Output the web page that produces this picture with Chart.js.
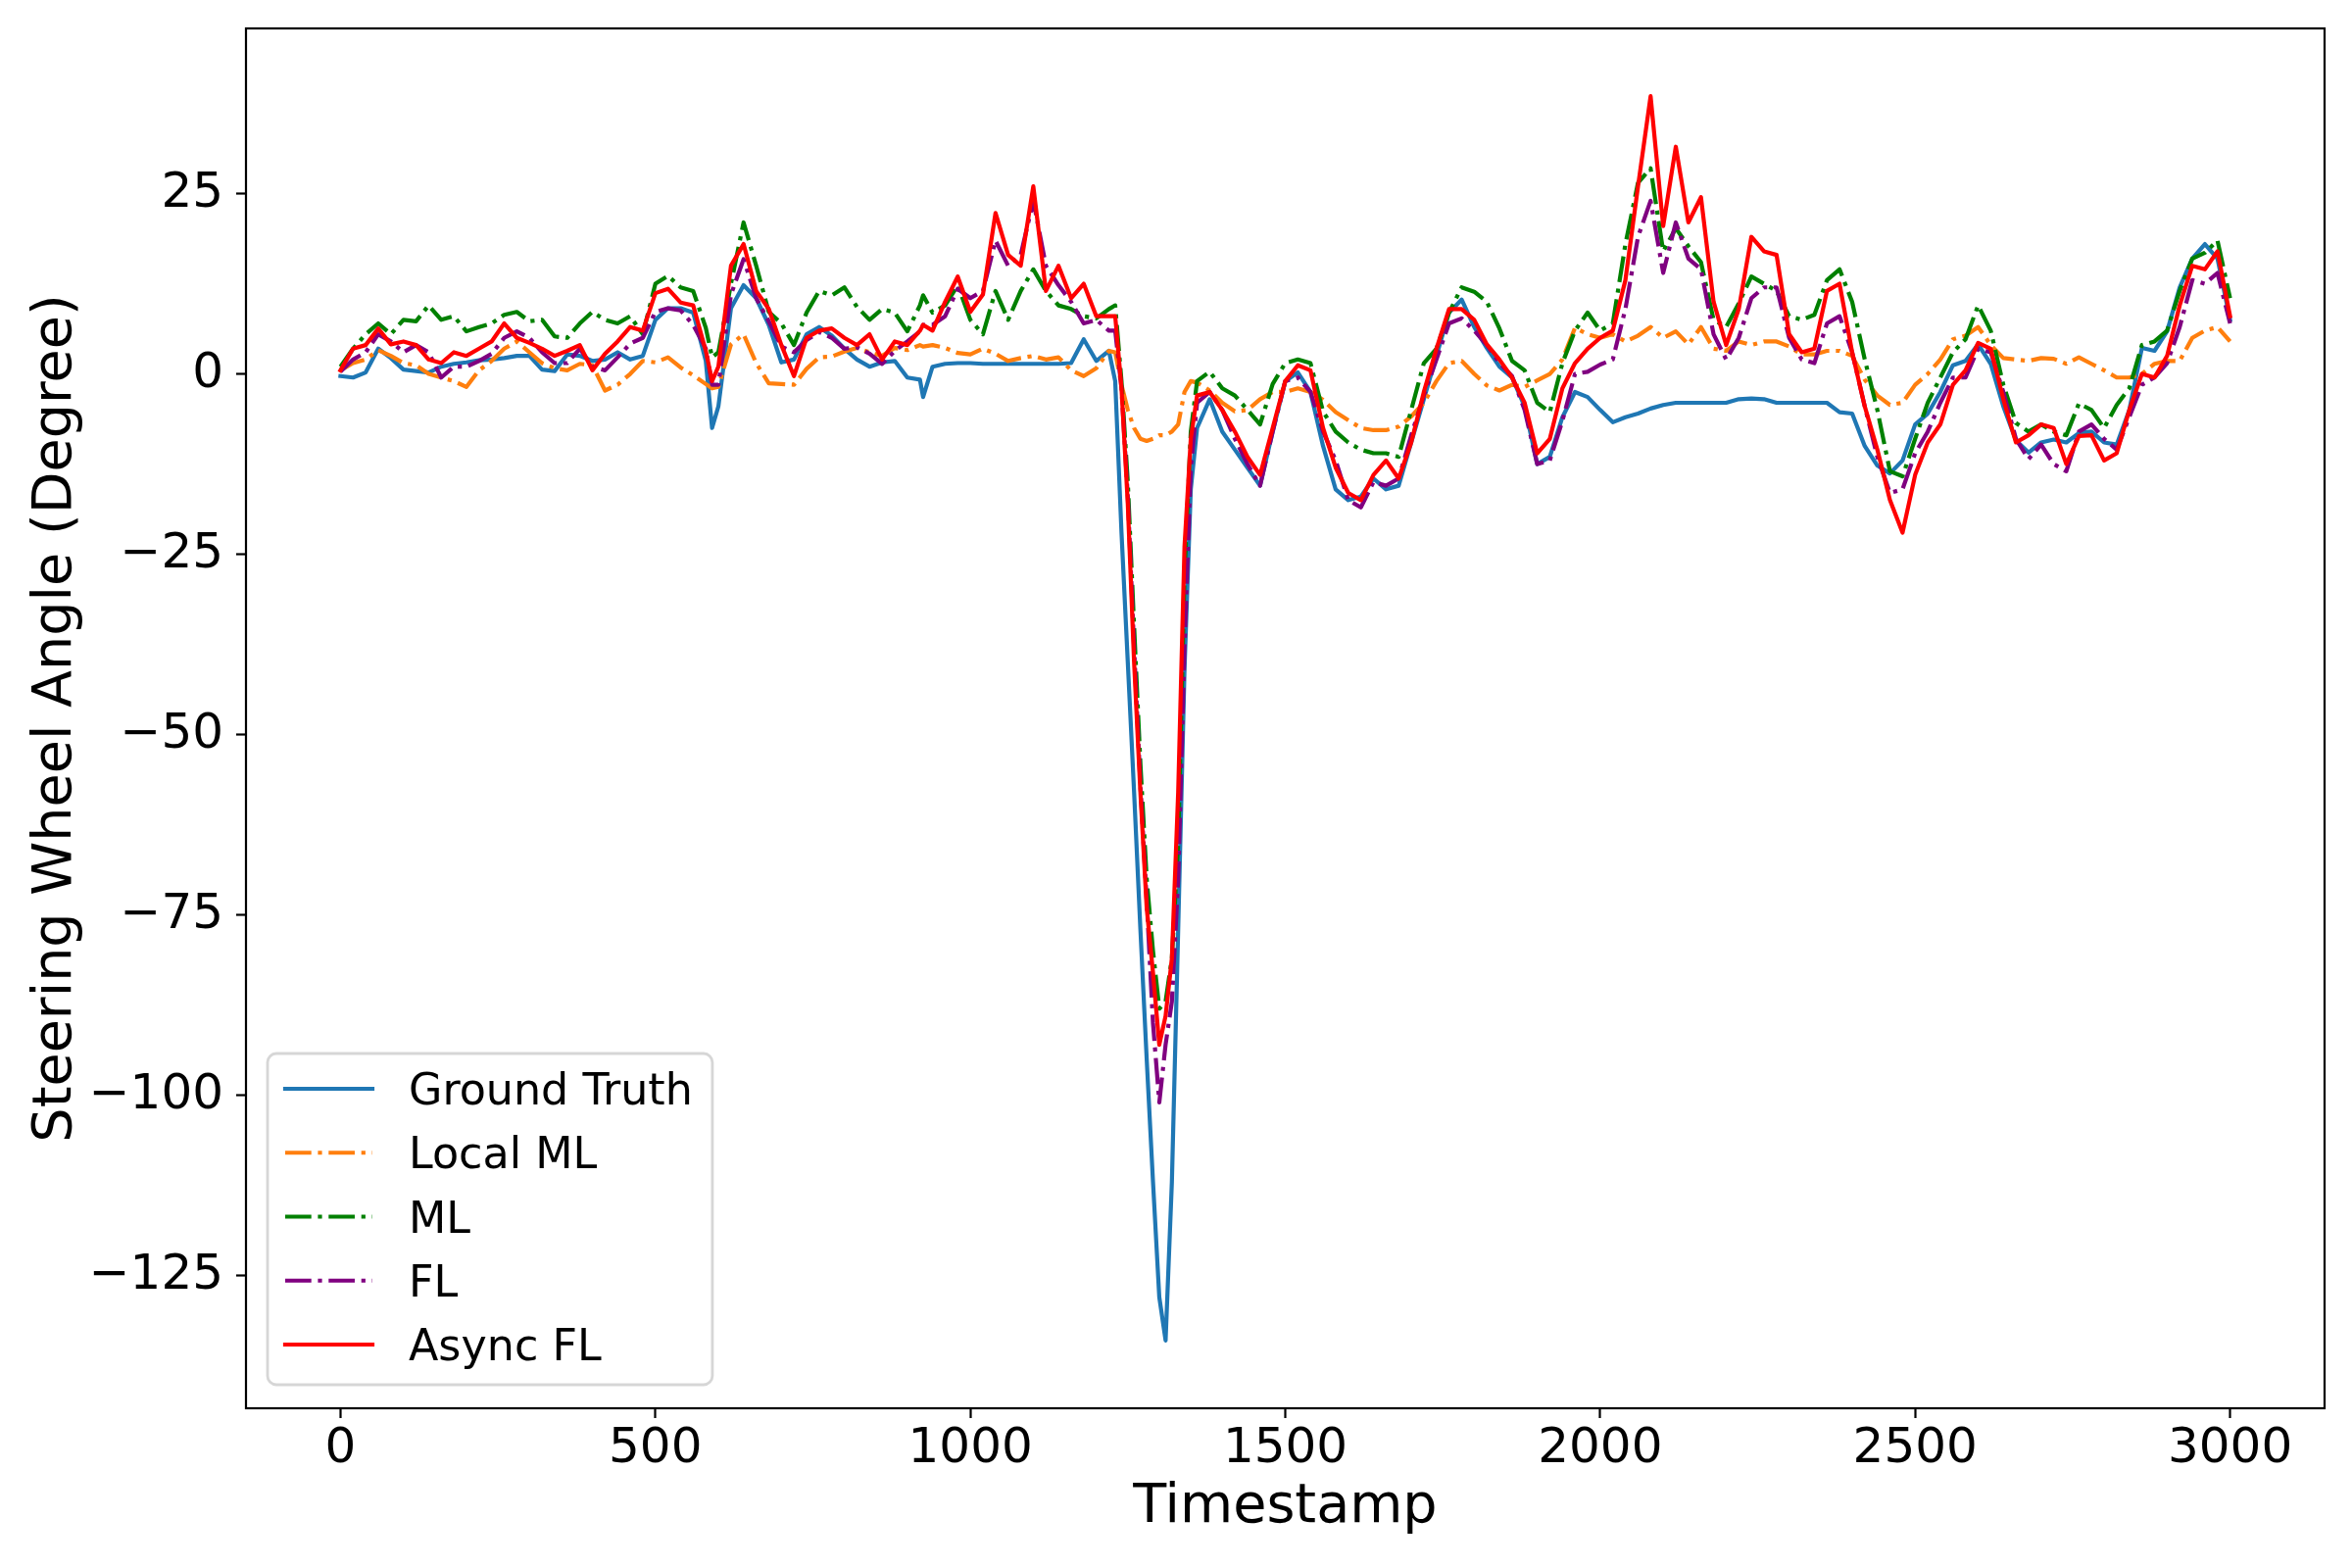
<!DOCTYPE html>
<html>
<head>
<meta charset="utf-8">
<title>Steering Wheel Angle</title>
<script src="https://cdn.jsdelivr.net/npm/chart.js@4.4.1/dist/chart.umd.min.js"></script>
<style>
  html, body { margin: 0; padding: 0; background: #fff; }
  canvas { display: block; }
</style>
</head>
<body>
<canvas id="steeringChart" width="2400" height="1600"></canvas>
<script>
const timestamps = [
  0, 20, 40, 60, 80, 100, 120, 140, 160, 180, 200, 220, 240, 260, 280, 300, 320, 340, 360, 380, 400, 420, 440, 460, 480,
  500, 520, 540, 560, 580, 590, 600, 620, 640, 660, 680, 700, 720, 740, 760, 780, 800, 820, 840, 860, 880, 900, 920, 925, 940, 960, 980,
  1000, 1020, 1040, 1060, 1080, 1100, 1120, 1140, 1160, 1180, 1200, 1220, 1230, 1240, 1250, 1260, 1270, 1280, 1290, 1300, 1310, 1320, 1330, 1340, 1350, 1360, 1380, 1400, 1420, 1440, 1460, 1480,
  1500, 1520, 1540, 1560, 1580, 1600, 1620, 1640, 1660, 1680, 1700, 1720, 1740, 1760, 1780, 1800, 1820, 1840, 1860, 1880, 1900, 1920, 1940, 1960, 1980,
  2000, 2020, 2040, 2060, 2080, 2100, 2120, 2140, 2160, 2180, 2200, 2220, 2240, 2260, 2280, 2300, 2320, 2340, 2360, 2380, 2400, 2420, 2440, 2460, 2480,
  2500, 2520, 2540, 2560, 2580, 2600, 2620, 2640, 2660, 2680, 2700, 2720, 2740, 2760, 2780, 2800, 2820, 2840, 2860, 2880, 2900, 2920, 2940, 2960, 2980, 3000
];

const groundTruth = [
  -0.3, -0.5, 0.2, 3.5, 2.2, 0.6, 0.4, 0.2, 1.0, 1.4, 1.6, 1.9, 2.0, 2.2, 2.5, 2.5, 0.6, 0.4, 2.7, 2.5, 1.8, 2.0, 3.0, 2.0, 2.5,
  7.5, 9.1, 9.1, 8.5, 1.8, -7.5, -4.5, 9.1, 12.3, 10.5, 6.8, 1.6, 2.0, 5.5, 6.5, 5.3, 3.5, 2.0, 1.0, 1.6, 1.8, -0.5, -0.8, -3.2, 1.0, 1.4, 1.5,
  1.5, 1.4, 1.4, 1.4, 1.4, 1.4, 1.4, 1.4, 1.5, 4.8, 1.8, 3.2, -1.0, -22, -40, -58, -77, -95, -112, -128, -134, -112, -77, -41, -16, -7.5, -3.5, -8, -10.5, -13, -15.5, -8,
  -1.0, 0.2, -2.5, -10, -16, -17.5, -17, -14.5, -16, -15.5, -9.5, -3.5, 2.5, 8.5, 10.3, 6.5, 3.6, 1.0, -0.5, -4.5, -12.5, -11.5, -6.0, -2.5, -3.2,
  -5.0, -6.7, -6.0, -5.5, -4.8, -4.3, -4.0, -4.0, -4.0, -4.0, -4.0, -3.5, -3.4, -3.5, -4.0, -4.0, -4.0, -4.0, -4.0, -5.3, -5.5, -10.0, -12.7, -13.8, -12.0,
  -7.0, -5.5, -2.5, 1.2, 1.8, 4.1, 1.4, -4.5, -9.2, -10.9, -9.5, -9.1, -9.5, -8.2, -8.0, -9.5, -9.8, -5.0, 3.6, 3.2, 5.9, 12.0, 16.0, 18.0, 16.0, 7.5
];

const localML = [
  0.5, 1.5, 2.0, 3.3, 2.5, 1.5, 1.2, 0, -0.5, -1.0, -1.8, 0.5, 1.8, 3.5, 4.5, 3.0, 1.5, 0.8, 0.5, 1.4, 1.2, -2.3, -1.5, 0, 1.8,
  1.6, 2.3, 0.9, -0.2, -1.4, -2.0, -1.8, 4.1, 5.5, 1.5, -1.3, -1.4, -1.5, 0.7, 2.3, 2.4, 3.1, 3.6, 3.0, 2.5, 3.6, 3.3, 4.0, 3.8, 4.0, 3.6, 2.9,
  2.7, 3.5, 2.8, 1.8, 2.2, 2.5, 2.0, 2.3, 0.5, -0.3, 0.8, 3.2, 3.0, -1.5, -5, -7.5, -9, -9.3, -9, -8.5, -8.5, -8, -7, -2.5, -1, -1.2, -2.3, -4.0, -5.2, -5, -3.5, -2.5,
  -2.5, -2, -2.5, -3.6, -5.3, -6.4, -7.5, -7.8, -7.8, -7.3, -5.9, -4.0, -1.0, 1.5, 1.8, 0, -1.6, -2.3, -1.5, -1.8, -0.9, 0, 2.0, 6.4, 5.5,
  5.0, 5.5, 4.5, 5.3, 6.5, 5.0, 5.9, 4.1, 6.5, 3.5, 3.2, 4.5, 4.0, 4.5, 4.5, 3.8, 2.7, 2.7, 3.2, 3.2, 2.5, -0.8, -3.0, -4.3, -4.0,
  -1.5, 0, 2.0, 4.8, 5.3, 6.5, 4.0, 2.2, 2.0, 1.8, 2.2, 2.1, 1.4, 2.3, 1.4, 0.5, -0.5, -0.5, 0, 1.4, 1.8, 1.8, 5.0, 6.0, 6.5, 4.5
];

const mlPred = [
  1, 3.5, 5.5, 7.0, 5.5, 7.5, 7.3, 9.5, 7.5, 8.0, 5.9, 6.5, 7.0, 8.2, 8.6, 7.3, 7.5, 5.2, 5.0, 7.0, 8.6, 7.5, 7.0, 8.0, 5.5,
  12.5, 13.6, 12.0, 11.5, 6.4, 2.3, 3.0, 12.5, 21.0, 15.0, 8.6, 7.0, 4.0, 8.5, 11.5, 10.9, 12.0, 9.3, 7.5, 9.0, 8.5, 5.9, 9.5, 10.9, 8.5, 9.5, 12.3,
  7.5, 5.5, 11.5, 7.5, 11.5, 14.5, 11.5, 9.5, 9.0, 8.0, 7.7, 9.0, 9.5, -1, -15, -35, -54, -70, -80, -88, -87, -81, -65, -28, -8, -1, 0.3, -2.0, -3.0, -5.0, -7.0, -1.4,
  1.5, 2.0, 1.5, -5.2, -8.0, -9.5, -10.5, -11.0, -11.0, -11.5, -5.0, 1.5, 3.5, 8.5, 12.0, 11.4, 10.0, 6.3, 1.8, 0.5, -4.0, -5.3, 1.5, 6.0, 8.5,
  6.0, 7.0, 18.0, 26.5, 28.5, 17.0, 20.2, 17.7, 15.5, 7.5, 6.5, 9.8, 13.5, 12.5, 11.5, 8.0, 7.5, 8.2, 13.0, 14.5, 10.0, 2.0, -5.0, -13.5, -14.2,
  -9, -4, -0.5, 3.0, 4.8, 9.5, 6.0, -1.5, -6.8, -8.0, -7.0, -8.0, -8.5, -4.1, -5.0, -7.5, -4.3, -2.0, 4.0, 4.5, 6.0, 11.5, 16.0, 16.8, 18.5, 10.5
];

const flPred = [
  0.3, 2.0, 3.0, 5.5, 4.5, 3.0, 4.0, 3.0, -0.5, 1.0, 1.0, 1.8, 2.8, 5.0, 5.9, 5.0, 3.0, 1.5, 1.5, 3.5, 1.0, 0.5, 2.3, 4.2, 5.0,
  8.6, 9.1, 8.8, 6.8, 3.5, -1.5, -1.5, 11.0, 15.9, 10.5, 7.3, 3.8, 3.0, 4.7, 5.8, 5.0, 3.5, 3.7, 2.8, 1.4, 3.2, 4.5, 5.9, 6.8, 6.8, 8.0, 11.8,
  10.5, 11.5, 18.5, 15.0, 16.5, 24.0, 15.0, 12.3, 10.0, 7.0, 7.5, 6.0, 6.0, -2, -17, -38, -57, -73, -90, -101, -93, -87, -70, -38, -13, -4, -2.5, -5, -9, -12.5, -15.5, -8,
  -1.0, -0.5, -2.5, -8.0, -12.0, -17.5, -18.5, -15, -15.5, -14.5, -8.5, -3.0, 2.0, 7.0, 7.7, 6.0, 4.0, 1.5, -0.3, -5.0, -12.5, -12.0, -6.5, 0, 0.3,
  1.3, 2.0, 9.0, 19.0, 24.0, 14.0, 21.0, 16.0, 14.5, 5.5, 2.0, 5.0, 10.5, 12.0, 12.0, 5.0, 2.0, 1.5, 7.0, 8.0, 3.0, -4.5, -11.5, -16.5, -16.0,
  -11.0, -8.0, -4.0, -0.5, -0.5, 3.5, 3.0, -2.5, -9.0, -11.8, -9.8, -12.5, -13.5, -8.0, -7.0, -9.0, -10.5, -6.0, -1.5, -0.5, 1.5, 6.5, 13.0, 12.5, 14.0, 7.0
];

const asyncFL = [
  0.5, 3.5, 4.0, 6.3, 4.1, 4.5, 4.0, 2.0, 1.5, 3.0, 2.5, 3.5, 4.5, 7.0, 5.0, 4.3, 3.5, 2.5, 3.2, 4.0, 0.5, 2.8, 4.5, 6.5, 6.0,
  11.2, 11.8, 9.9, 9.5, 3.2, -1.0, 1.0, 15.0, 18.0, 11.5, 9.0, 4.0, -0.3, 5.0, 6.0, 6.3, 5.0, 4.0, 5.5, 2.0, 4.5, 4.0, 6.0, 6.8, 6.0, 10.0, 13.5,
  8.6, 11.0, 22.3, 16.5, 15.0, 26.0, 11.5, 15.0, 10.5, 12.5, 8.0, 8.0, 8.0, -2, -18, -40, -58, -74, -83, -93, -89, -81, -58, -24, -9, -3, -2.5, -5, -8, -11.5, -14, -7.5,
  -1.0, 1.2, 0.5, -7.5, -13, -16.5, -17.5, -14, -12, -14.5, -9.5, -2.5, 3.5, 9.0, 9.0, 7.5, 4.1, 2.0, -0.5, -4.0, -11.0, -9.0, -2.0, 1.5, 3.5,
  5.0, 6.0, 13.0, 26.0, 38.5, 20.5, 31.5, 21.0, 24.5, 10.0, 4.0, 9.0, 19.0, 17.0, 16.5, 5.5, 3.0, 3.5, 11.5, 12.5, 3.0, -4.5, -10.5, -17.5, -22.0,
  -14.0, -9.5, -7.0, -1.5, 0.5, 4.3, 3.5, -3.5, -9.5, -8.5, -7.0, -7.5, -12.5, -8.6, -8.5, -12.0, -11.0, -5.0, 0, -0.5, 2.5, 9.5, 15.0, 14.5, 17.0, 8.0
];

const xTickValues = [0, 500, 1000, 1500, 2000, 2500, 3000];
const yTickValues = [-125, -100, -75, -50, -25, 0, 25];

const FONT = "'DejaVu Sans', sans-serif";
const DASH_DOT = [26.7, 6.7, 4.2, 6.7];

function toPoints(ys) {
    return timestamps.map((t, i) => ({ x: t, y: ys[i] }));
}

// box around the axes + legend in the lower left, matplotlib style
const frameAndLegend = {
    id: 'frameAndLegend',
    afterDatasetsDraw(chart) {
        const { ctx, chartArea: a } = chart;
        ctx.save();

        // legend
        const fontSize = 44.4;
        ctx.font = fontSize + 'px ' + FONT;
        const sets = chart.data.datasets;
        let maxW = 0;
        sets.forEach(ds => { maxW = Math.max(maxW, ctx.measureText(ds.label).width); });
        const boxL = a.left + 22;
        const boxB = a.bottom - 24;
        const boxH = 338;
        const boxT = boxB - boxH;
        const handleL = boxL + 18, handleR = handleL + 89;
        const textX = handleR + 37;
        const boxR = textX + maxW + 20;
        const r = 9;

        ctx.beginPath();
        ctx.moveTo(boxL + r, boxT);
        ctx.arcTo(boxR, boxT, boxR, boxB, r);
        ctx.arcTo(boxR, boxB, boxL, boxB, r);
        ctx.arcTo(boxL, boxB, boxL, boxT, r);
        ctx.arcTo(boxL, boxT, boxR, boxT, r);
        ctx.closePath();
        ctx.fillStyle = 'rgba(255,255,255,0.8)';
        ctx.fill();
        ctx.lineWidth = 2.8;
        ctx.strokeStyle = 'rgba(204,204,204,0.8)';
        ctx.stroke();

        sets.forEach((ds, i) => {
            const y = boxT + 36 + i * 65.25;
            ctx.beginPath();
            ctx.lineWidth = ds.borderWidth;
            ctx.strokeStyle = ds.borderColor;
            ctx.setLineDash(ds.borderDash || []);
            ctx.lineCap = ds.borderCapStyle;
            ctx.moveTo(handleL, y);
            ctx.lineTo(handleR, y);
            ctx.stroke();
            ctx.setLineDash([]);
            ctx.fillStyle = '#000';
            ctx.textBaseline = 'alphabetic';
            ctx.textAlign = 'left';
            ctx.fillText(ds.label, textX, y + 16);
        });

        // axes frame
        ctx.lineWidth = 2.2;
        ctx.strokeStyle = '#000';
        ctx.lineCap = 'butt';
        ctx.strokeRect(a.left, a.top, a.right - a.left, a.bottom - a.top);
        ctx.restore();
    }
};

const ctx = document.getElementById('steeringChart').getContext('2d');
new Chart(ctx, {
    type: 'line',
    data: {
        datasets: [
            { label: 'Ground Truth', data: toPoints(groundTruth), borderColor: '#1f77b4', borderWidth: 4.2, borderCapStyle: 'square', order: 4 },
            { label: 'Local ML', data: toPoints(localML), borderColor: '#ff7f0e', borderWidth: 4.2, borderDash: DASH_DOT, borderCapStyle: 'butt', order: 3 },
            { label: 'ML', data: toPoints(mlPred), borderColor: '#008000', borderWidth: 4.2, borderDash: DASH_DOT, borderCapStyle: 'butt', order: 2 },
            { label: 'FL', data: toPoints(flPred), borderColor: '#800080', borderWidth: 4.2, borderDash: DASH_DOT, borderCapStyle: 'butt', order: 1 },
            { label: 'Async FL', data: toPoints(asyncFL), borderColor: '#ff0000', borderWidth: 4.2, borderCapStyle: 'square', order: 0 }
        ]
    },
    options: {
        responsive: false,
        devicePixelRatio: 1,
        animation: false,
        layout: { padding: { top: 29, right: 28, bottom: 0, left: 0 } },
        elements: {
            point: { radius: 0 },
            line: { tension: 0, borderJoinStyle: 'round', fill: false }
        },
        plugins: {
            legend: { display: false },
            tooltip: { enabled: false }
        },
        scales: {
            x: {
                type: 'linear',
                min: -150,
                max: 3150,
                afterBuildTicks: scale => { scale.ticks = xTickValues.map(v => ({ value: v })); },
                afterFit: scale => {
                    scale.height = 163;
                    scale.paddingLeft = 0;
                    scale.paddingRight = 0;
                },
                grid: { display: true, drawOnChartArea: false, drawTicks: true, tickLength: 10, tickWidth: 2.2, tickColor: '#000' },
                border: { display: false },
                ticks: {
                    autoSkip: false,
                    maxRotation: 0,
                    padding: 2,
                    color: '#000',
                    font: { family: FONT, size: 50 },
                    callback: value => String(value)
                },
                title: {
                    display: true,
                    text: 'Timestamp',
                    color: '#000',
                    font: { family: FONT, size: 55.6 },
                    padding: { top: 0, bottom: 28 }
                }
            },
            y: {
                type: 'linear',
                min: -143.4,
                max: 47.9,
                afterBuildTicks: scale => { scale.ticks = yTickValues.map(v => ({ value: v })); },
                afterFit: scale => {
                    scale.width = 251;
                    scale.paddingTop = 0;
                    scale.paddingBottom = 0;
                },
                grid: { display: true, drawOnChartArea: false, drawTicks: true, tickLength: 10, tickWidth: 2.2, tickColor: '#000' },
                border: { display: false },
                ticks: {
                    autoSkip: false,
                    padding: 13,
                    color: '#000',
                    font: { family: FONT, size: 50 },
                    callback: value => value < 0 ? '\u2212' + Math.abs(value) : String(value)
                },
                title: {
                    display: true,
                    text: 'Steering Wheel Angle (Degree)',
                    color: '#000',
                    font: { family: FONT, size: 55.6 },
                    padding: { top: 24, bottom: 0 }
                }
            }
        }
    },
    plugins: [frameAndLegend]
});
</script>
</body>
</html>
